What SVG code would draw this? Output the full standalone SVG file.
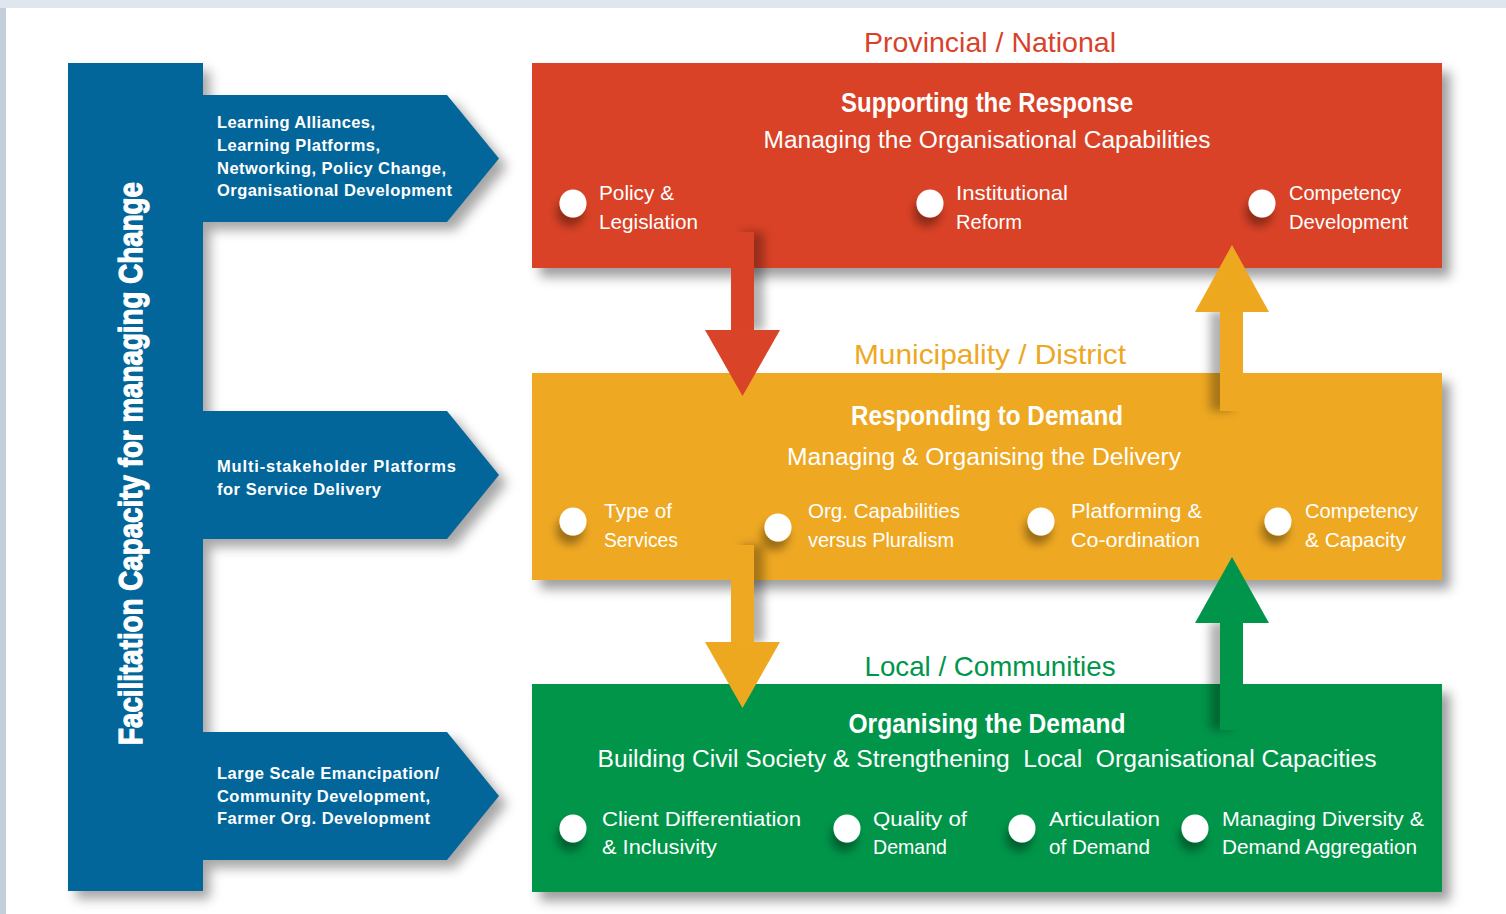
<svg xmlns="http://www.w3.org/2000/svg" width="1506" height="914" viewBox="0 0 1506 914">
  <style>
    .cond{font-family:"Liberation Sans Narrow","Liberation Sans",Arial,sans-serif;}
    .level{font-size:28px;text-anchor:middle}
    .head{font-size:27px;font-weight:bold;fill:#fff;text-anchor:middle}
    .sub{font-size:23px;fill:#fff;text-anchor:middle}
    .item{font-size:21px;fill:#fff}
    .tab{font-family:"Liberation Sans",Arial,sans-serif;font-size:16.5px;font-weight:bold;fill:#fff}
    .dot{fill:#fff}
    .blue{fill:#03669a}
  </style>
  <defs>
    <filter id="softBlur" x="-10%" y="-10%" width="120%" height="120%">
      <feGaussianBlur stdDeviation="6"/>
    </filter>
    <filter id="boxShadow" x="-5%" y="-15%" width="115%" height="140%">
      <feDropShadow dx="8" dy="9" stdDeviation="6" flood-color="#000" flood-opacity="0.38"/>
    </filter>
    <filter id="dotShadow" x="-100%" y="-100%" width="300%" height="300%">
      <feDropShadow dx="-3" dy="9" stdDeviation="4" flood-color="#000" flood-opacity="0.35"/>
    </filter>
    <filter id="shadowRight" x="-100%" y="-30%" width="300%" height="160%">
      <feDropShadow dx="10" dy="0" stdDeviation="5" flood-color="#000" flood-opacity="0.3"/>
    </filter>
    <filter id="shadowLeft" x="-100%" y="-30%" width="300%" height="160%">
      <feDropShadow dx="-10" dy="0" stdDeviation="5" flood-color="#000" flood-opacity="0.3"/>
    </filter>
  </defs>

  <!-- page frame -->
  <rect width="1506" height="914" fill="#dfe6ed"/>
  <rect x="0" y="8" width="6" height="906" fill="#c3cfdb"/>
  <rect x="6" y="8" width="1500" height="906" fill="#ffffff"/>

  <!-- shadow cast by the facilitation bar and its three tabs -->
  <path transform="translate(8,8)" fill="#000" fill-opacity="0.35" filter="url(#softBlur)"
        d="M68,63 H202 V95 H447 L499,158.5 L447,222 H202 V411 H447 L499,475 L447,539 H202 V732 H447 L499,796 L447,860 H202 V891 H68 Z"/>

  <g id="facilitation-bar">
    <rect class="blue" x="68" y="63" width="135" height="828"/>
    <text transform="translate(142,745) rotate(-90)" font-family="'Liberation Sans',Arial,sans-serif" font-weight="bold" font-size="33" fill="#fff" stroke="#fff" stroke-width="1.3" stroke-linejoin="round" textLength="563" lengthAdjust="spacingAndGlyphs">Facilitation Capacity for managing Change</text>
  </g>

  <g id="tab-learning">
    <polygon class="blue" points="202,95 447,95 499,158.5 447,222 202,222"/>
    <text class="tab" x="217" y="128" textLength="158">Learning Alliances,</text>
    <text class="tab" x="217" y="151" textLength="163">Learning Platforms,</text>
    <text class="tab" x="217" y="173.5" textLength="229">Networking, Policy Change,</text>
    <text class="tab" x="217" y="196" textLength="235">Organisational Development</text>
  </g>

  <g id="tab-platforms">
    <polygon class="blue" points="202,411 447,411 499,475 447,539 202,539"/>
    <text class="tab" x="217" y="472" textLength="239">Multi-stakeholder Platforms</text>
    <text class="tab" x="217" y="495" textLength="164">for Service Delivery</text>
  </g>

  <g id="tab-emancipation">
    <polygon class="blue" points="202,732 447,732 499,796 447,860 202,860"/>
    <text class="tab" x="217" y="779" textLength="222">Large Scale Emancipation/</text>
    <text class="tab" x="217" y="802" textLength="213">Community Development,</text>
    <text class="tab" x="217" y="824" textLength="213">Farmer Org. Development</text>
  </g>

  <!-- level captions -->
  <text class="cond level" x="990" y="52" fill="#d9412b" textLength="252" lengthAdjust="spacingAndGlyphs">Provincial / National</text>
  <text class="cond level" x="990" y="364" fill="#eda823" textLength="272" lengthAdjust="spacingAndGlyphs">Municipality / District</text>
  <text class="cond level" x="990" y="676" fill="#00964c" textLength="251" lengthAdjust="spacingAndGlyphs">Local / Communities</text>

  <g id="box-supporting">
    <rect x="532" y="63" width="910" height="205" fill="#d94327" filter="url(#boxShadow)"/>
    <text class="cond head" x="987" y="112" textLength="292" lengthAdjust="spacingAndGlyphs">Supporting the Response</text>
    <text class="cond sub" x="987" y="148" textLength="447" lengthAdjust="spacingAndGlyphs">Managing the Organisational Capabilities</text>
    <g filter="url(#dotShadow)">
      <ellipse class="dot" cx="573" cy="203.5" rx="13.5" ry="14"/>
      <ellipse class="dot" cx="930" cy="203.5" rx="13.5" ry="14"/>
      <ellipse class="dot" cx="1262" cy="203.5" rx="13.5" ry="14"/>
    </g>
    <text class="cond item" x="599" y="200" textLength="75" lengthAdjust="spacingAndGlyphs">Policy &amp;</text>
    <text class="cond item" x="599" y="228.5" textLength="99" lengthAdjust="spacingAndGlyphs">Legislation</text>
    <text class="cond item" x="956" y="200" textLength="112" lengthAdjust="spacingAndGlyphs">Institutional</text>
    <text class="cond item" x="956" y="228.5" textLength="66" lengthAdjust="spacingAndGlyphs">Reform</text>
    <text class="cond item" x="1289" y="200" textLength="112" lengthAdjust="spacingAndGlyphs">Competency</text>
    <text class="cond item" x="1289" y="228.5" textLength="119" lengthAdjust="spacingAndGlyphs">Development</text>
  </g>

  <g id="box-responding">
    <rect x="532" y="373" width="910" height="207" fill="#eea820" filter="url(#boxShadow)"/>
    <text class="cond head" x="987" y="425" textLength="272" lengthAdjust="spacingAndGlyphs">Responding to Demand</text>
    <text class="cond sub" x="984" y="465" textLength="394" lengthAdjust="spacingAndGlyphs">Managing &amp; Organising the Delivery</text>
    <g filter="url(#dotShadow)">
      <ellipse class="dot" cx="573" cy="521.5" rx="13.5" ry="14"/>
      <ellipse class="dot" cx="778" cy="527.5" rx="13.5" ry="14"/>
      <ellipse class="dot" cx="1041" cy="521.5" rx="13.5" ry="14"/>
      <ellipse class="dot" cx="1278" cy="521.5" rx="13.5" ry="14"/>
    </g>
    <text class="cond item" x="604" y="518" textLength="68" lengthAdjust="spacingAndGlyphs">Type of</text>
    <text class="cond item" x="604" y="547" textLength="74" lengthAdjust="spacingAndGlyphs">Services</text>
    <text class="cond item" x="808" y="518" textLength="152" lengthAdjust="spacingAndGlyphs">Org. Capabilities</text>
    <text class="cond item" x="808" y="547" textLength="146" lengthAdjust="spacingAndGlyphs">versus Pluralism</text>
    <text class="cond item" x="1071" y="518" textLength="131" lengthAdjust="spacingAndGlyphs">Platforming &amp;</text>
    <text class="cond item" x="1071" y="547" textLength="129" lengthAdjust="spacingAndGlyphs">Co-ordination</text>
    <text class="cond item" x="1305" y="518" textLength="113" lengthAdjust="spacingAndGlyphs">Competency</text>
    <text class="cond item" x="1305" y="547" textLength="101" lengthAdjust="spacingAndGlyphs">&amp; Capacity</text>
  </g>

  <g id="box-organising">
    <rect x="532" y="684" width="910" height="208" fill="#00954a" filter="url(#boxShadow)"/>
    <text class="cond head" x="987" y="733" textLength="277" lengthAdjust="spacingAndGlyphs">Organising the Demand</text>
    <text class="cond sub" x="987" y="767" textLength="779" lengthAdjust="spacingAndGlyphs" xml:space="preserve">Building Civil Society &amp; Strengthening  Local  Organisational Capacities</text>
    <g filter="url(#dotShadow)">
      <ellipse class="dot" cx="573" cy="828.5" rx="13.5" ry="14"/>
      <ellipse class="dot" cx="847" cy="828.5" rx="13.5" ry="14"/>
      <ellipse class="dot" cx="1022" cy="828.5" rx="13.5" ry="14"/>
      <ellipse class="dot" cx="1195" cy="828.5" rx="13.5" ry="14"/>
    </g>
    <text class="cond item" x="602" y="826" textLength="199" lengthAdjust="spacingAndGlyphs">Client Differentiation</text>
    <text class="cond item" x="602" y="854" textLength="115" lengthAdjust="spacingAndGlyphs">&amp; Inclusivity</text>
    <text class="cond item" x="873" y="826" textLength="94" lengthAdjust="spacingAndGlyphs">Quality of</text>
    <text class="cond item" x="873" y="854" textLength="74" lengthAdjust="spacingAndGlyphs">Demand</text>
    <text class="cond item" x="1049" y="826" textLength="111" lengthAdjust="spacingAndGlyphs">Articulation</text>
    <text class="cond item" x="1049" y="854" textLength="101" lengthAdjust="spacingAndGlyphs">of Demand</text>
    <text class="cond item" x="1222" y="826" textLength="202" lengthAdjust="spacingAndGlyphs">Managing Diversity &amp;</text>
    <text class="cond item" x="1222" y="854" textLength="195" lengthAdjust="spacingAndGlyphs">Demand Aggregation</text>
  </g>

  <!-- flows between the levels -->
  <g id="connectors">
    <g id="flow-national-down">
      <rect x="731" y="232" width="23" height="99" fill="#d94327" filter="url(#shadowRight)"/>
      <polygon points="705,330 780,330 742.5,396" fill="#d94327"/>
    </g>
    <g id="flow-municipal-up">
      <rect x="1220" y="311" width="23" height="100" fill="#eea820" filter="url(#shadowLeft)"/>
      <polygon points="1195,312 1269,312 1232,245" fill="#eea820"/>
    </g>
    <g id="flow-municipal-down">
      <rect x="731" y="545" width="23" height="98" fill="#eea820" filter="url(#shadowRight)"/>
      <polygon points="705,642 780,642 742.5,708" fill="#eea820"/>
    </g>
    <g id="flow-local-up">
      <rect x="1220" y="622" width="23" height="108" fill="#00954a" filter="url(#shadowLeft)"/>
      <polygon points="1195,623 1269,623 1232,557" fill="#00954a"/>
    </g>
  </g>
</svg>
